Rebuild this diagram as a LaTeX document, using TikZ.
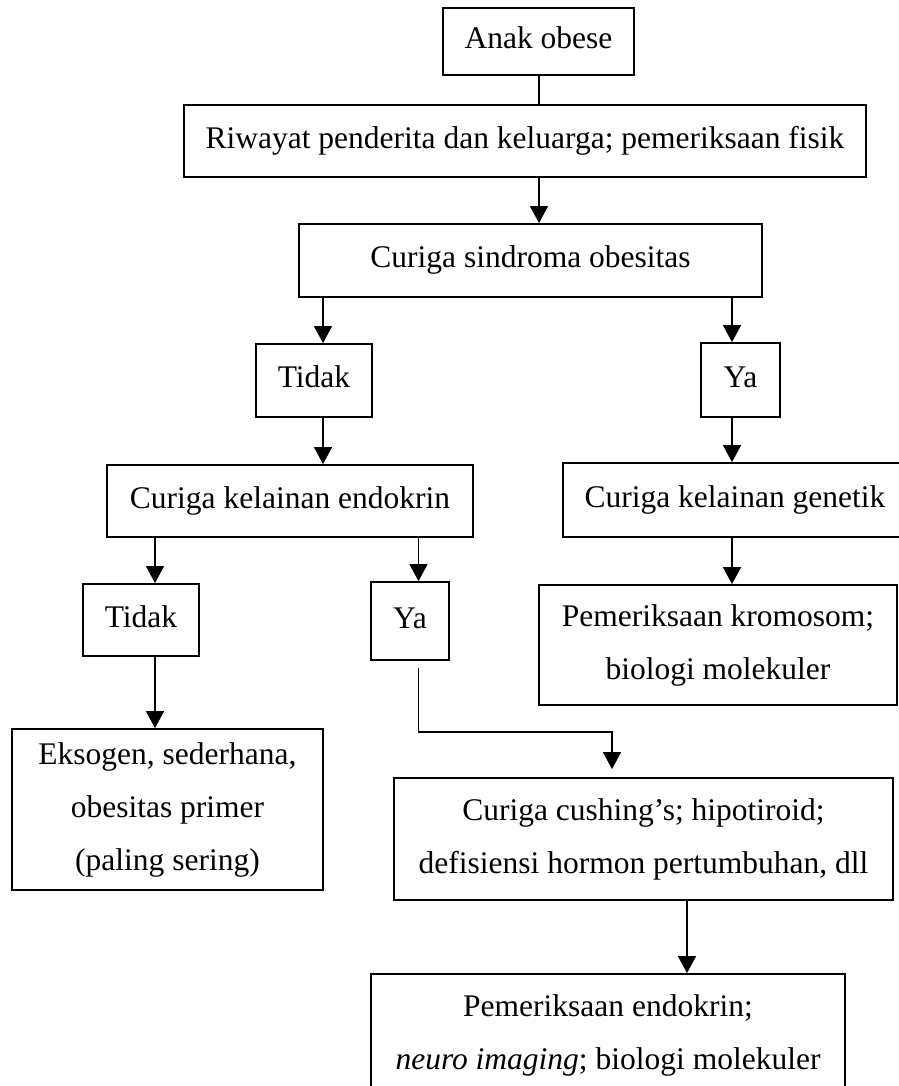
\documentclass[tikz,border=0pt]{standalone}
\usepackage{fontspec}
\setmainfont{Liberation Serif}
\usetikzlibrary{arrows.meta}
\begin{document}
\begin{tikzpicture}[x=1pt,y=-1pt,
  box/.style={draw, line width=1.8pt, inner sep=0pt, font=\fontsize{31.5}{53}\selectfont},
  one/.style={text height=21.7pt, text depth=6.9pt},
  multi/.style={align=center},
  conn/.style={line width=1.4pt},
  arr/.style={conn, -{Triangle[length=17pt 0,width=18pt 0]}}]
\useasboundingbox (0,0) rectangle (898,1086);
% boxes
\node[box,one,minimum width=191pt,minimum height=67pt] (b1) at (538.5,41.5) {Anak obese};
\node[box,one,minimum width=682pt,minimum height=72pt] (b2) at (525,141) {Riwayat penderita dan keluarga; pemeriksaan fisik};
\node[box,one,minimum width=463pt,minimum height=73pt] (b3) at (530.5,260.5) {Curiga sindroma obesitas};
\node[box,one,minimum width=116pt,minimum height=73pt] (t1) at (314,380.5) {Tidak};
\node[box,one,minimum width=79pt,minimum height=74pt] (y1) at (740.5,380) {Ya};
\node[box,one,minimum width=366pt,minimum height=72pt] (b4) at (290,501) {Curiga kelainan endokrin};
\node[box,one,minimum width=356pt,minimum height=74pt] (gen) at (741,500) {\hspace*{-12pt}Curiga kelainan genetik};
\node[box,one,minimum width=116pt,minimum height=72pt] (t2) at (141,620) {Tidak};
\node[box,one,minimum width=78pt,minimum height=78pt] (y2) at (410,621) {Ya};
\node[box,multi,minimum width=358pt,minimum height=120pt] (krom) at (718,645) {Pemeriksaan kromosom;\\biologi molekuler};
\node[box,multi,minimum width=311pt,minimum height=161pt] (eks) at (167.5,809.5) {Eksogen, sederhana,\\obesitas primer\\(paling sering)};
\node[box,multi,minimum width=499pt,minimum height=122pt] (cush) at (643.5,839) {Curiga cushing’s; hipotiroid;\\defisiensi hormon pertumbuhan, dll};
\node[box,multi,minimum width=474pt,minimum height=122pt] (endo) at (608,1035) {Pemeriksaan endokrin;\\\textit{neuro imaging}; biologi molekuler};
% x positions of the connectors
\coordinate (x539) at (539,0);
\coordinate (x323) at (323,0);
\coordinate (x732) at (732,0);
\coordinate (x155) at (155,0);
\coordinate (x418) at (418.5,0);
\coordinate (x687) at (687,0);
\coordinate (x612) at (612,0);
\coordinate (turn) at (612,732);
% connectors
\draw[conn] (b1.south -| x539) -- (b2.north -| x539);
\draw[arr] (b2.south -| x539) -- (b3.north -| x539);
\draw[arr] (b3.south -| x323) -- (t1.north -| x323);
\draw[arr] (b3.south -| x732) -- (y1.north -| x732);
\draw[arr] (t1.south -| x323) -- (b4.north -| x323);
\draw[arr] (y1.south -| x732) -- (gen.north -| x732);
\draw[arr] (b4.south -| x155) -- (t2.north -| x155);
\draw[arr] (b4.south -| x418) -- (y2.north -| x418);
\draw[arr] (gen.south -| x732) -- (krom.north -| x732);
\draw[arr] (t2.south -| x155) -- (eks.north -| x155);
\draw[arr, shorten <=7pt, shorten >=8pt] (y2.south -| x418) |- (turn) -- (cush.north -| x612);
\draw[arr] (cush.south -| x687) -- (endo.north -| x687);
\end{tikzpicture}
\end{document}
